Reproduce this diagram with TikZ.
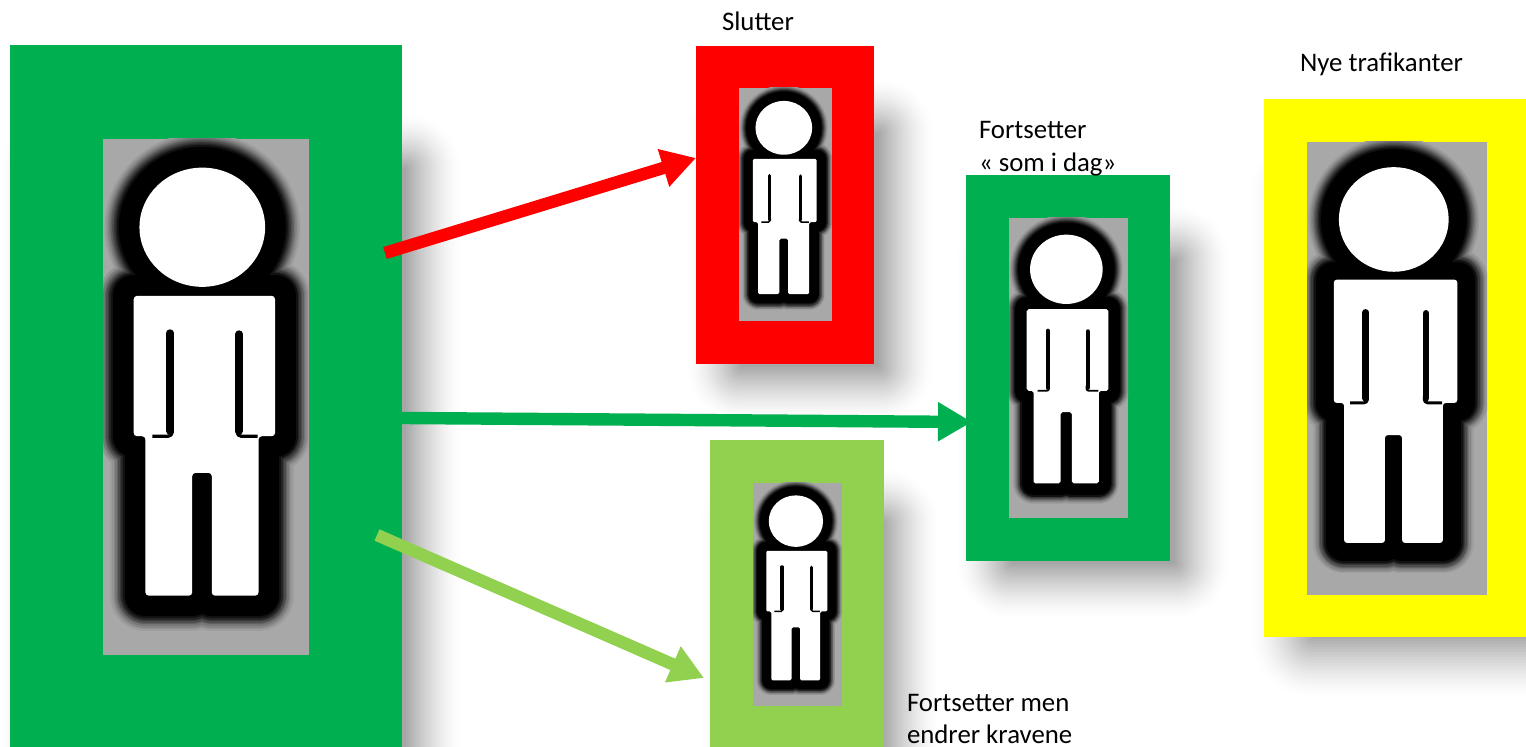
\documentclass[tikz,border=0pt]{standalone}
\usepackage{fontspec}
\setmainfont{Carlito}
\usetikzlibrary{arrows.meta}
\definecolor{cgreen}{HTML}{00B050}
\definecolor{clight}{HTML}{92D050}
\definecolor{cred}{HTML}{FF0000}
\definecolor{cyellow}{HTML}{FFFF00}
\definecolor{cgray}{HTML}{A8A8A8}
\tikzset{
  panel/.style={rectangle,draw=none,inner sep=0pt,outer sep=0pt,anchor=north west},
  label/.style={inner sep=0pt,outer sep=0pt,anchor=north west,align=left,text=black,font=\fontsize{13.4}{16.5}\selectfont},
  conn/.style={line width=6.2pt,line cap=butt},
  conntip/.style={-{Triangle[length=17pt,width=18.5pt]}}
}
% blurred shadow: l t r b blur
\newcommand\softshadow[5]{%
  \foreach \k in {24,23,...,0}{%
    \pgfmathsetmacro\ff{\k/24}%
    \pgfmathsetmacro\dd{#5*(2*\ff-1)}%
    \pgfmathsetmacro\cc{35*(1-\ff)^1.5}%
    \pgfmathsetmacro\rr{(\dd+#5)*0.5}%
    \fill[black!\cc,rounded corners=\rr pt] ({#1-\dd},{#2-\dd}) rectangle ({#3+\dd},{#4+\dd});
  }%
}
% panel: name colour x0 y0 x1 y1
\newcommand\panelbox[6]{%
  \node[panel,fill=#2,minimum width={(#5-#3)*0.5pt},minimum height={(#6-#4)*0.5pt}] (#1) at (#3,#4) {};
}
% person: x0 y0 x1 y1
\newcommand\person[4]{%
  \pgfmathsetmacro\pw{(#3-#1)*0.5}%
  \pgfmathsetmacro\ph{(#4-#2)*0.5}%
  \begin{scope}[shift={(#1,#2)},x=\pw pt,y=-\ph pt,line join=round]
    \begin{scope}
      \clip (0,0) rectangle (1,1);
      \foreach \t/\g in {.34/6,.325/12,.31/20,.295/30,.28/42,.265/54,.25/66,.235/78,.22/90,.2/100}{%
        \draw[black!\g!cgray,line width=\t*\pw pt]
          (.482,.171) ellipse [x radius=.305,y radius=.1155];
        \draw[black!\g!cgray,line width=\t*\pw pt]
          (.149,.304) -- (.835,.304) -- (.835,.576) -- (.755,.576) -- (.755,.885)
          -- (.528,.885) -- (.528,.647) -- (.433,.647) -- (.433,.885) -- (.206,.885)
          -- (.206,.576) -- (.149,.576) -- cycle;
      }
    \end{scope}
    \fill[black] (.2,.3) rectangle (.76,.88);
    \fill[white] (.482,.171) ellipse [x radius=.305,y radius=.1155];
    \fill[white,rounded corners=.016*\pw pt]
      (.149,.304) -- (.835,.304) -- (.835,.576) -- (.755,.576) -- (.755,.885)
      -- (.528,.885) -- (.528,.647) -- (.433,.647) -- (.433,.885) -- (.206,.885)
      -- (.206,.576) -- (.149,.576) -- cycle;
    \draw[black,line width=.036*\pw pt,line cap=round] (.326,.376) -- (.326,.566);
    \draw[black,line width=.036*\pw pt,line cap=round] (.661,.378) -- (.661,.566);
    \draw[black,line width=.016*\pw pt,rounded corners=.02*\pw pt] (.336,.56) -- (.336,.576) -- (.24,.576);
    \draw[black,line width=.016*\pw pt,rounded corners=.02*\pw pt] (.651,.56) -- (.651,.576) -- (.75,.576);
  \end{scope}%
}
\begin{document}
\begin{tikzpicture}[x=0.5pt,y=-0.5pt]
  \useasboundingbox (0,0) rectangle (1526,747);
  \clip (0,0) rectangle (1526,747);
  \fill[white] (0,0) rectangle (1526,747);
  % shadows
  \softshadow{27}{140}{434}{800}{28}
  \softshadow{713}{105}{907}{395}{28}
  \softshadow{727}{495}{912}{800}{28}
  \softshadow{983}{232}{1203}{592}{28}
  \softshadow{1281}{160}{1570}{668}{32}
  % panels
  \panelbox{big}{cgreen}{10}{45}{402}{747}
  \panelbox{slutter}{cred}{696}{46}{874}{364}
  \panelbox{endrer}{clight}{710}{440}{884}{747}
  \panelbox{fortsetter}{cgreen}{966}{175}{1170}{561}
  \panelbox{nye}{cyellow}{1264}{99}{1526}{637}
  % picture backgrounds
  \panelbox{bigimg}{cgray}{103}{139}{309}{655}
  \panelbox{slutterimg}{cgray}{739}{88}{832}{321}
  \panelbox{endrerimg}{cgray}{753}{483}{842}{706}
  \panelbox{fortsetterimg}{cgray}{1009}{218}{1128}{518}
  \panelbox{nyeimg}{cgray}{1307}{142}{1487}{595}
  % figures
  \person{103}{139}{309}{655}
  \person{739}{88}{832}{321}
  \person{753}{483}{842}{706}
  \person{1009}{218}{1128}{518}
  \person{1307}{142}{1487}{595}
  % labels
  \node[label] (t1) at (722,12) {Slutter};
  \node[label] (t2) at (1300,53) {Nye trafikanter};
  \node[label] (t3) at (979,121) {Fortsetter\\« som i dag»};
  \node[label,font=\fontsize{13.4}{16}\selectfont] (t4) at (907,694) {Fortsetter men\\endrer kravene};
  % connectors
  \coordinate (a1) at (385,253);
  \coordinate (b1) at (696,158);
  \coordinate (a2) at (402,418);
  \coordinate (b2) at (972,422);
  \coordinate (a3) at (377,535);
  \coordinate (b3) at (704,678);
  \draw[conn,conntip,draw=cred,fill=cred] (a1) -- (b1);
  \draw[conn,conntip,draw=cgreen,fill=cgreen] (a2) -- (b2);
  \draw[conn,conntip,draw=clight,fill=clight] (a3) -- (b3);
\end{tikzpicture}
\end{document}
